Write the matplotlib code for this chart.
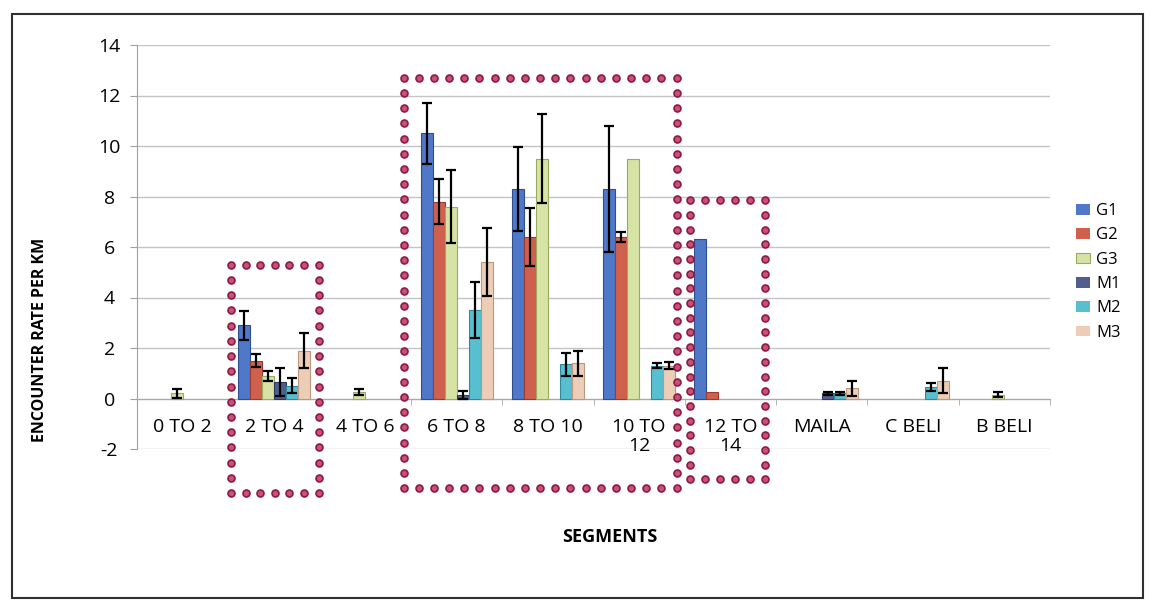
import numpy as np
import matplotlib.pyplot as plt
from matplotlib.patches import Rectangle

plt.rcParams['font.family'] = ['Open Sans', 'DejaVu Sans']
plt.rcParams['axes.unicode_minus'] = False

categories = ["0 TO 2", "2 TO 4", "4 TO 6", "6 TO 8", "8 TO 10", "10 TO\n12",
              "12 TO\n14", "MAILA", "C BELI", "B BELI"]
series = ["G1", "G2", "G3", "M1", "M2", "M3"]

# encounter rate per km, and the error bar half-length, per segment
G1 = [0, 2.9, 0, 10.5, 8.3, 8.3, 6.3, 0, 0, 0]
G1_err = [0, 0.57, 0, 1.2, 1.65, 2.5, 0, 0, 0, 0]
G2 = [0, 1.5, 0, 7.8, 6.4, 6.4, 0.25, 0, 0, 0]
G2_err = [0, 0.27, 0, 0.9, 1.15, 0.2, 0, 0, 0, 0]
G3 = [0.2, 0.9, 0.25, 7.6, 9.5, 9.5, 0, 0, 0, 0.15]
G3_err = [0.18, 0.2, 0.12, 1.45, 1.75, 0, 0, 0, 0, 0.1]
M1 = [0, 0.65, 0, 0.15, 0, 0, 0, 0.2, 0, 0]
M1_err = [0, 0.55, 0, 0.15, 0, 0, 0, 0.05, 0, 0]
M2 = [0, 0.5, 0, 3.5, 1.35, 1.3, 0, 0.2, 0.45, 0]
M2_err = [0, 0.3, 0, 1.1, 0.45, 0.1, 0, 0.05, 0.15, 0]
M3 = [0, 1.9, 0, 5.4, 1.4, 1.3, 0, 0.4, 0.7, 0]
M3_err = [0, 0.7, 0, 1.35, 0.5, 0.15, 0, 0.3, 0.5, 0]

values = [G1, G2, G3, M1, M2, M3]
errors = [G1_err, G2_err, G3_err, M1_err, M2_err, M3_err]
colors = ['#4F78C8', '#D0604E', '#D6E3A4', '#4E5F8E', '#58BFD0', '#EDCDB5']
edges = ['#2E4E8E', '#9A3A30', '#9AAA60', '#2E3A5E', '#2E8A9A', '#B89880']

# highlighted segment groups: (x0, x1, y0, y1) in data units
boxes = [(0.53, 1.49, -3.75, 5.3), (2.42, 5.41, -3.55, 12.7), (5.56, 6.38, -3.2, 7.85)]

fig = plt.figure(figsize=(11.55, 6.12), dpi=100)
ax = fig.add_axes([137/1155, 1-449/612, (1050-137)/1155, (449-45)/612])

x = np.arange(len(categories))
w = 0.1315
for i in range(len(series)):
    pos = x + (i - 2.5)*w
    lw = [0.8 if v > 0 else 0 for v in values[i]]
    ax.bar(pos, values[i], w, color=colors[i], edgecolor=edges[i], linewidth=lw,
           label=series[i], zorder=3)
    err = np.array(errors[i])
    keep = err > 0
    ax.errorbar(pos[keep], np.array(values[i])[keep], yerr=err[keep], fmt='none',
                ecolor='black', elinewidth=1.6, capsize=3.6, capthick=1.6, zorder=4)

ax.set_xlim(-0.5, len(categories) - 0.5)
ax.set_ylim(-2, 14)
ax.set_yticks(np.arange(-2, 15, 2))
ax.yaxis.grid(True, color='#C4C4C4', linewidth=1)
ax.set_axisbelow(True)

for s in ['top', 'right']:
    ax.spines[s].set_visible(False)
ax.spines['left'].set_color('#A0A0A0')
ax.spines['bottom'].set_position(('data', 0))
ax.spines['bottom'].set_color('#A8A8A8')

ax.set_xticks(x)
ax.set_xticklabels(categories, fontsize=14, linespacing=1.1)
ax.set_xticks(np.arange(-0.5, len(categories), 1), minor=True)
ax.tick_params(axis='x', which='major', length=0, pad=14)
ax.tick_params(axis='x', which='minor', length=4, color='#A8A8A8')
ax.tick_params(axis='y', length=5, color='#A0A0A0', labelsize=14, pad=15)
for t in ax.get_yticklabels():
    t.set_horizontalalignment('center')

fig.text(40/1155, 1-340/612, 'ENCOUNTER RATE PER KM', rotation=90, fontsize=11.5,
         fontweight='bold', ha='center', va='center')
fig.text(610/1155, 1-537/612, 'SEGMENTS', fontsize=13, fontweight='bold',
         ha='center', va='center')

fig.legend(loc='center left', bbox_to_anchor=(1068/1155, 1-272/612), frameon=False,
           fontsize=12, handlelength=0.8, handleheight=0.6, handletextpad=0.4,
           labelspacing=0.5, borderpad=0)

# dotted outlines around the segment groups, dots spaced evenly in pixels
fig.canvas.draw()
to_px = ax.transData
to_data = ax.transData.inverted()
for x0, x1, y0, y1 in boxes:
    (px0, py0), (px1, py1) = to_px.transform([(x0, y0), (x1, y1)])
    corners = [(px0, py1), (px1, py1), (px1, py0), (px0, py0), (px0, py1)]
    pts = []
    for (ax_, ay_), (bx_, by_) in zip(corners[:-1], corners[1:]):
        n = max(int(round(np.hypot(bx_ - ax_, by_ - ay_) / 15.0)), 1)
        t = np.arange(n) / n
        pts.append(np.column_stack([ax_ + (bx_ - ax_)*t, ay_ + (by_ - ay_)*t]))
    pts = to_data.transform(np.vstack(pts))
    ax.plot(pts[:, 0], pts[:, 1], 'o', ms=5, mfc='#C8507A', mec='#8E1A40', mew=1.2,
            clip_on=False, zorder=6)

fig.add_artist(Rectangle((12/1155, 1-598/612), (1143-12)/1155, (598-14)/612,
                         transform=fig.transFigure, fill=False, edgecolor='#303030',
                         linewidth=1.5))

fig.savefig('out.png', dpi=100)
